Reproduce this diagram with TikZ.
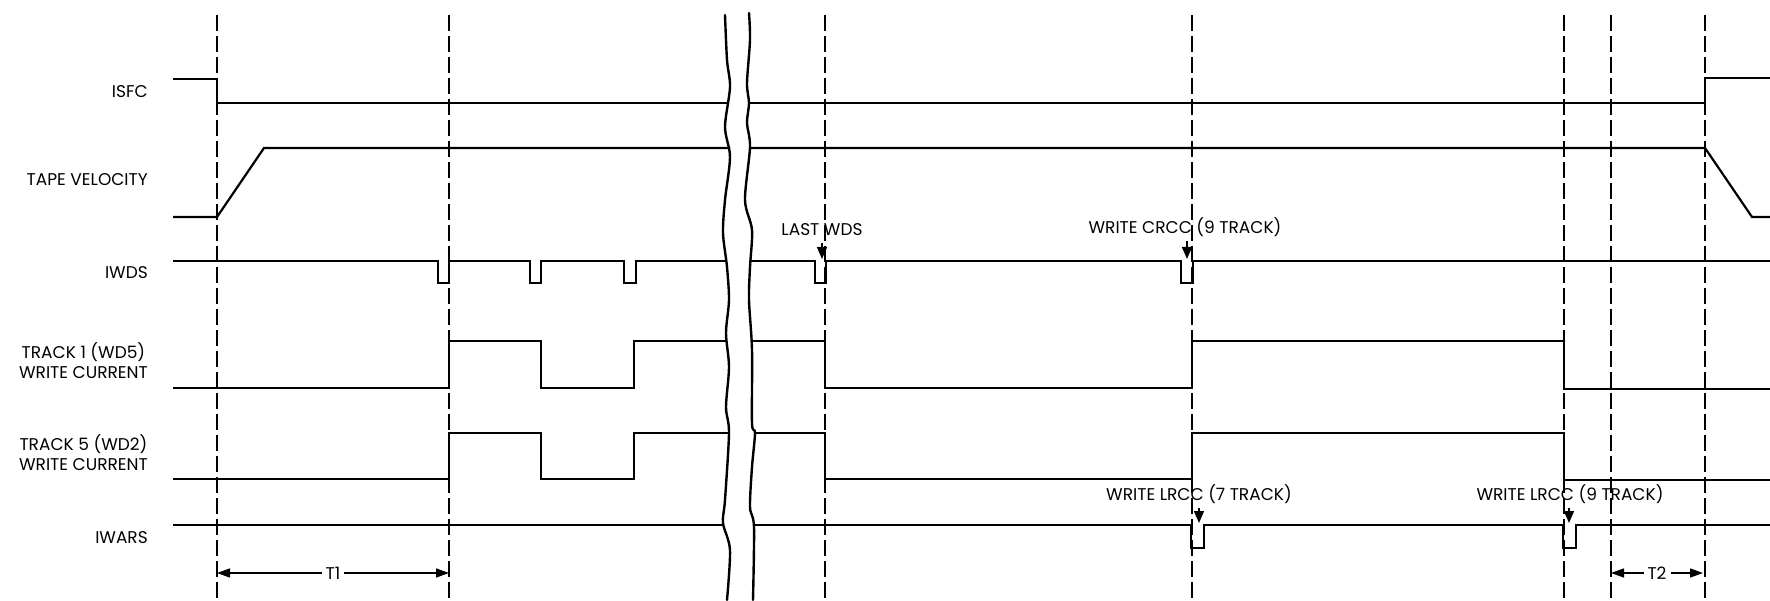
\documentclass[tikz,border=0pt]{standalone}
\usepackage{fontspec}
\setmainfont{Poppins}
\usetikzlibrary{arrows.meta}
\begin{document}
\begin{tikzpicture}[x=1pt,y=-1pt,
  sig/.style={line width=2.2pt, line join=miter, line cap=butt},
  guide/.style={line width=1.5pt, dash pattern=on 16pt off 5pt},
  brk/.style={line width=2.4pt, line cap=round},
  lbl/.style={font=\fontsize{17}{20}\selectfont, inner sep=0pt},
  note/.style={lbl, text depth=0pt},
  ptr/.style={line width=1.5pt, shorten <=7pt, -{Triangle[width=10pt,length=12pt]}},
  dimarr/.style={line width=1.5pt, {Triangle[width=9pt,length=13pt]}-{Triangle[width=9pt,length=13pt]}}]
\useasboundingbox (0,0) rectangle (1770,601);

% dashed timing guides
\foreach \x in {217,449,825,1192,1564,1611,1705}
  \draw[guide] (\x,15) -- (\x,601);

% break lines
\draw[brk] plot[smooth] coordinates {(725,15) (727,60) (730,87) (725,127) (730,157) (725,200) (723,233) (727,267) (729,300) (726,333) (729,367) (726,407) (729,433) (725,500) (723,523) (730,550) (727,600)};
\draw[brk] plot[smooth] coordinates {(749,13) (750,40) (747,83) (749,103) (747,123) (750,147) (745,200) (752,230) (750,267) (749,300) (752,350) (752,423) (755,433) (752,467) (750,507) (754,527) (753,600)};

% signal labels
\node[lbl, anchor=base east] (lisfc) at (148,98) {ISFC};
\node[lbl, anchor=base east] (ltape) at (148,186) {TAPE VELOCITY};
\node[lbl, anchor=base east] (liwds) at (148,279) {IWDS};
\node[lbl, anchor=base east, align=center] (ltr1) at (148,379) {TRACK 1 (WD5)\\WRITE CURRENT};
\node[lbl, anchor=base east, align=center] (ltr5) at (148,470) {TRACK 5 (WD2)\\WRITE CURRENT};
\node[lbl, anchor=base east] (liwars) at (148,543) {IWARS};

% ISFC
\draw[sig] (173,79) -- (217,79) -- (217,103) -- (728,103);
\draw[sig] (749,103) -- (1705,103) -- (1705,78) -- (1770,78);
% TAPE VELOCITY
\draw[sig] (173,217) -- (217,217) -- (264,148) -- (730,148);
\draw[sig] (750,148) -- (1705,148) -- (1752,217) -- (1770,217);
% IWDS
\draw[sig] (173,261) -- (438,261) -- (438,283) -- (449,283) -- (449,261)
  -- (530,261) -- (530,283) -- (541,283) -- (541,261)
  -- (624,261) -- (624,283) -- (636,283) -- (636,261) -- (726,261);
\draw[sig] (750,261) -- (815,261) -- (815,283) -- (826,283) -- (826,261)
  -- (1181,261) -- (1181,283) -- (1193,283) -- (1193,261) -- (1770,261);
% TRACK 1
\draw[sig] (173,388) -- (449,388) -- (449,341) -- (541,341) -- (541,388)
  -- (634,388) -- (634,341) -- (727,341);
\draw[sig] (751,341) -- (825,341) -- (825,388) -- (1192,388) -- (1192,341)
  -- (1564,341) -- (1564,389) -- (1770,389);
% TRACK 5
\draw[sig] (173,479) -- (449,479) -- (449,433) -- (541,433) -- (541,479)
  -- (634,479) -- (634,433) -- (729,433);
\draw[sig] (755,433) -- (825,433) -- (825,479) -- (1192,479) -- (1192,433)
  -- (1564,433) -- (1564,480) -- (1770,480);
% IWARS
\draw[sig] (173,525) -- (723,525);
\draw[sig] (754,525) -- (1191,525) -- (1191,548) -- (1204,548) -- (1204,525)
  -- (1563,525) -- (1563,548) -- (1576,548) -- (1576,525) -- (1770,525);

% annotations
\node[note, anchor=base] (nlast) at (822,236) {LAST WDS};
\node[note, anchor=base] (ncrcc) at (1185,234) {WRITE CRCC (9 TRACK)};
\node[note, anchor=base] (nlrc7) at (1199,500.5) {WRITE LRCC (7 TRACK)};
\node[note, anchor=base] (nlrc9) at (1570,500.5) {WRITE LRCC (9 TRACK)};
\coordinate (plast) at (822,259);
\coordinate (pcrcc) at (1187,259);
\coordinate (plrc7) at (1199,523);
\coordinate (plrc9) at (1569,523);
\draw[ptr] (nlast.south -| plast) -- (plast);
\draw[ptr] (ncrcc.south -| pcrcc) -- (pcrcc);
\draw[ptr] (nlrc7.south -| plrc7) -- (plrc7);
\draw[ptr] (nlrc9.south -| plrc9) -- (plrc9);

% T1 / T2
\coordinate (t1a) at (217,573);
\coordinate (t1b) at (449,573);
\coordinate (t2a) at (1611,573);
\coordinate (t2b) at (1703,573);
\draw[dimarr] (t1a) -- (t1b) node[midway, lbl, fill=white, inner xsep=4pt, inner ysep=1pt] (nt1) {T1};
\draw[dimarr] (t2a) -- (t2b) node[midway, lbl, fill=white, inner xsep=4pt, inner ysep=1pt] (nt2) {T2};
\end{tikzpicture}
\end{document}
